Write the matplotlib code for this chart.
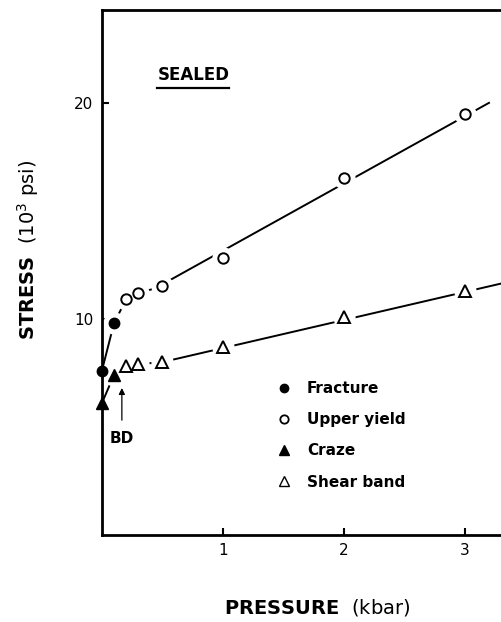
import numpy as np
import matplotlib.pyplot as plt
from matplotlib.lines import Line2D

# -----------------------------
# DATA
# -----------------------------
fracture_p = [0.0, 0.1]
fracture_s = [7.6, 9.8]

yield_p = [0.2, 0.3, 0.5, 1.0, 2.0, 3.0]
yield_s = [10.9, 11.2, 11.5, 12.8, 16.5, 19.5]

craze_p = [0.0, 0.1]
craze_s = [6.1, 7.4]

shear_p = [0.2, 0.3, 0.5, 1.0, 2.0, 3.0]
shear_s = [7.8, 7.9, 8.0, 8.7, 10.1, 11.3]

# straight trend lines drawn through the high-pressure points
yield_line_p = [0.5, 3.2]
yield_line_s = [11.6, 20.0]
shear_line_p = [0.5, 3.35]
shear_line_s = [8.0, 11.7]

bd_p = 0.165  # brittle-ductile transition marker

x_ticks = [1, 2, 3]
y_ticks = [10, 20]

# -----------------------------
# FIGURE
# -----------------------------
plt.rcParams['font.family'] = 'DejaVu Sans'
plt.rcParams['mathtext.fontset'] = 'dejavusans'

fig = plt.figure(figsize=(5.02, 6.22), dpi=100)
ax = fig.add_axes([0.203, 0.14, 0.80, 0.844])

ax.set_xlim(0, 3.32)
ax.set_ylim(0, 24.3)

lw = 1.4
# low-pressure connecting curves
ax.plot(fracture_p + yield_p[:3], fracture_s + yield_s[:3], color='k', lw=lw, zorder=2.0)
ax.plot(craze_p + shear_p[:3], craze_s + shear_s[:3], color='k', lw=lw, zorder=2.0)
# trend lines
ax.plot(yield_line_p, yield_line_s, color='k', lw=lw, zorder=2.0, clip_on=False)
ax.plot(shear_line_p, shear_line_s, color='k', lw=lw, zorder=2.0)

# white halos so lines stop short of the markers
halo_p = fracture_p[1:] + yield_p + craze_p[1:] + shear_p
halo_s = fracture_s[1:] + yield_s + craze_s[1:] + shear_s
ax.plot(halo_p, halo_s, 'o', ms=16, color='white', mec='none', ls='none', zorder=2.2)

ms = 7.5
ax.plot(fracture_p, fracture_s, 'o', ms=ms, color='k', ls='none', zorder=3, clip_on=False)
ax.plot(yield_p, yield_s, 'o', ms=ms, mfc='white', mec='k', mew=1.4, ls='none', zorder=3)
ax.plot(craze_p, craze_s, '^', ms=ms + 1, color='k', ls='none', zorder=3, clip_on=False)
ax.plot(shear_p, shear_s, '^', ms=ms + 1, mfc='white', mec='k', mew=1.4, ls='none', zorder=3)

# BD arrow
ax.annotate('BD', xy=(bd_p, 6.8), xytext=(bd_p, 4.45), ha='center', va='center',
            fontsize=11, fontweight='bold',
            arrowprops=dict(arrowstyle='-|>', color='k', lw=0.9, mutation_scale=9,
                            shrinkA=6, shrinkB=0))

# SEALED with underline
t = ax.text(0.2275, 0.876, 'SEALED', transform=ax.transAxes, ha='center', va='center',
            fontsize=12, fontweight='bold')
fig.canvas.draw()
bb = t.get_window_extent().transformed(fig.transFigure.inverted())
fig.add_artist(Line2D([bb.x0, bb.x1], [bb.y0 - 0.006, bb.y0 - 0.006],
                      transform=fig.transFigure, color='k', lw=1.6))

# legend
handles = [
    Line2D([], [], marker='o', ls='none', color='k', ms=6),
    Line2D([], [], marker='o', ls='none', mfc='white', mec='k', mew=1.3, ms=6),
    Line2D([], [], marker='^', ls='none', color='k', ms=6.5),
    Line2D([], [], marker='^', ls='none', mfc='white', mec='k', mew=1.0, ms=6.5),
]
labels = ['Fracture', 'Upper yield', 'Craze', 'Shear band']
leg = ax.legend(handles, labels, loc='upper left', bbox_to_anchor=(0.415, 0.307),
                frameon=False, handlelength=1.0, handletextpad=1.0, labelspacing=1.05,
                borderpad=0, prop={'size': 11, 'weight': 'bold'})

# axes styling
ax.spines['right'].set_visible(False)
for s in ['left', 'bottom', 'top']:
    ax.spines[s].set_linewidth(2.0)
ax.set_xticks(x_ticks)
ax.set_yticks(y_ticks)
ax.tick_params(direction='in', length=5, width=1.5, labelsize=11, pad=6)

ax.set_xlabel(r'$\mathbf{PRESSURE}$  (kbar)', fontsize=14, va='center')
ax.set_ylabel(r'$\mathbf{STRESS}$  (10$^3$ psi)', fontsize=14, va='center')
ax.xaxis.set_label_coords(0.535, -0.139)
ax.yaxis.set_label_coords(-0.185, 0.543)

fig.savefig('out.png', dpi=100)
